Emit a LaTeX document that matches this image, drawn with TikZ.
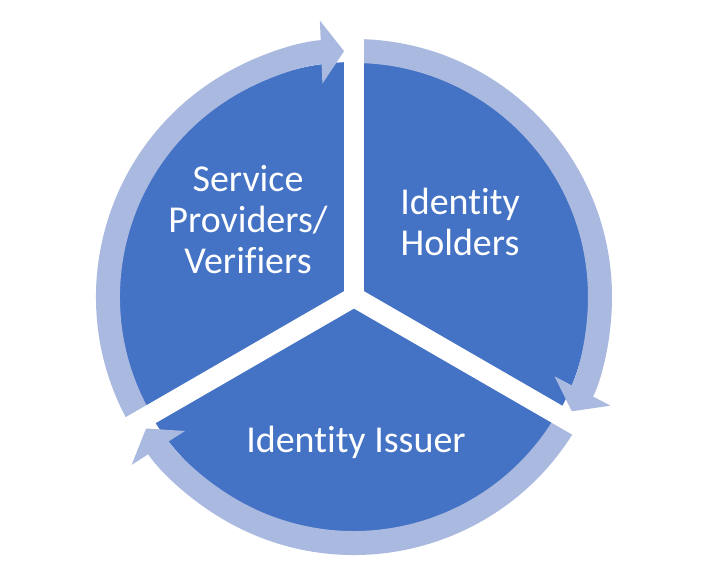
\documentclass[tikz,border=0pt]{standalone}
\usepackage{fontspec}
\setmainfont{Carlito}[Ligatures=NoCommon]
\usepackage{tikz}
\usetikzlibrary{arrows.meta}
\definecolor{cpie}{HTML}{4472C4}
\definecolor{cring}{HTML}{AAB9DF}
\tikzset{
  ring/.style={line width=24pt,cring,line cap=butt,-{Triangle[length=23pt,width=62pt]}},
  gapband/.style={line width=20pt,white,line cap=butt},
  lbl/.style={text=white,align=center,inner sep=0pt,font=\fontsize{38}{41}\selectfont},
}
\newcommand{\rmid}{246}

\begin{document}
\begin{tikzpicture}[x=1pt,y=1pt]
\useasboundingbox (-354,-273) rectangle (353,297);

% ================= pie and cycle ring =================
\coordinate (hub) at (0,0);
\fill[cpie] (hub) circle[radius=235];
\draw[ring] (210:\rmid) arc[start angle=210,end angle=92.3,radius=\rmid];
\draw[ring] (90:\rmid) arc[start angle=90,end angle=-27.7,radius=\rmid];
\draw[ring] (-30:\rmid) arc[start angle=-30,end angle=-147.7,radius=\rmid];

% white gaps between the three segments
\foreach \a/\n in {90/top,210/left,330/right}{
  \coordinate (gap-\n) at (\a:280);
  \draw[gapband] (hub) -- (gap-\n);
}

% ================= labels =================
\node[lbl] (verifiers) at (-106,77) {Service\\Providers/\\Verifiers};
\node[lbl] (holders) at (106,75) {Identity\\Holders};
\node[lbl,anchor=base] (issuer) at (2,-155) {Identity Issuer};

\end{tikzpicture}
\end{document}
